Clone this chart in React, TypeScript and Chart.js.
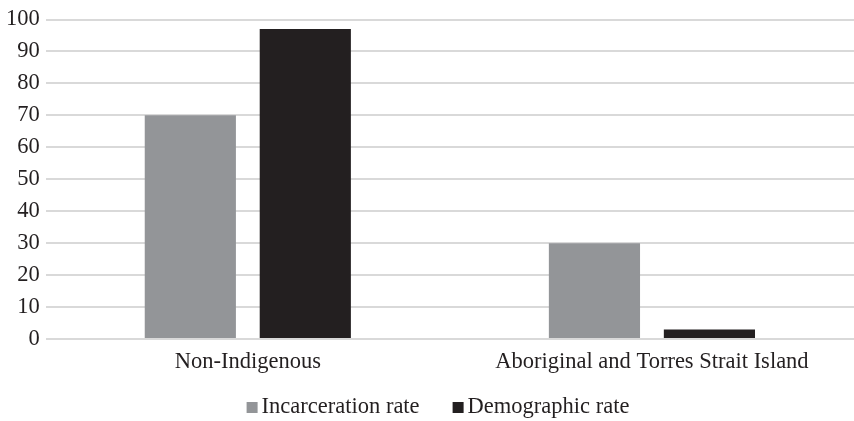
import React, { useEffect, useRef } from "react";
import { Chart, registerables } from "chart.js";

Chart.register(...registerables);

const categories = ["Non-Indigenous", "Aboriginal and Torres Strait Island"];
const incarcerationRate = [70, 30];
const demographicRate = [97, 3];
const seriesLabels = ["Incarceration rate", "Demographic rate"];

const FONT_FAMILY = "'Liberation Serif', 'Times New Roman', serif";
const FONT_SIZE = 22.5;

const bottomLegend = {
  id: "bottomLegend",
  afterDraw(chart: any) {
    const ctx = chart.ctx as CanvasRenderingContext2D;
    const ds = chart.data.datasets;
    const box = 11;
    const boxGap = 4;
    const itemGap = 33;
    ctx.save();
    ctx.font = `${FONT_SIZE}px ${FONT_FAMILY}`;
    ctx.textBaseline = "alphabetic";
    ctx.textAlign = "left";
    const widths = ds.map((d: any) => box + boxGap + ctx.measureText(d.label).width);
    const total = widths.reduce((a: number, b: number) => a + b, 0) + itemGap * (ds.length - 1);
    let x = chart.width / 2 + 11 - total / 2;
    const baseline = chart.height - 8;
    ds.forEach((d: any, i: number) => {
      ctx.fillStyle = d.backgroundColor;
      ctx.fillRect(x, baseline - box, box, box);
      ctx.fillStyle = "#231f20";
      ctx.fillText(d.label, x + box + boxGap, baseline);
      x += widths[i] + itemGap;
    });
    ctx.restore();
  },
};

export default function App() {
  const ref = useRef<HTMLCanvasElement | null>(null);
  useEffect(() => {
    if (!ref.current) return;
    const font = { family: FONT_FAMILY, size: FONT_SIZE };
    const chart = new Chart(ref.current, {
      type: "bar",
      data: {
        labels: categories,
        datasets: [
          {
            label: seriesLabels[0],
            data: incarcerationRate,
            backgroundColor: "#939598",
            categoryPercentage: 0.569,
            barPercentage: 0.793,
          },
          {
            label: seriesLabels[1],
            data: demographicRate,
            backgroundColor: "#231f20",
            categoryPercentage: 0.569,
            barPercentage: 0.793,
          },
        ],
      },
      plugins: [bottomLegend],
      options: {
        responsive: false,
        animation: false,
        maintainAspectRatio: false,
        layout: { padding: { top: 15, right: 0, left: 0, bottom: 43 } },
        plugins: {
          legend: { display: false },
          tooltip: { enabled: false },
        },
        scales: {
          x: {
            grid: { display: false },
            border: { display: false },
            ticks: { font, color: "#231f20", padding: 2 },
          },
          y: {
            min: 0,
            max: 100,
            ticks: { stepSize: 10, font, color: "#231f20", padding: 6 },
            grid: { color: "#d9d9d9", lineWidth: 2, drawTicks: false },
            border: { display: false },
          },
        },
      },
    });
    return () => chart.destroy();
  }, []);
  return (
    <div style={{ position: "fixed", left: 0, top: 0, width: 854, height: 421, background: "#fff" }}>
      <canvas ref={ref} width={854} height={421} />
    </div>
  );
}
